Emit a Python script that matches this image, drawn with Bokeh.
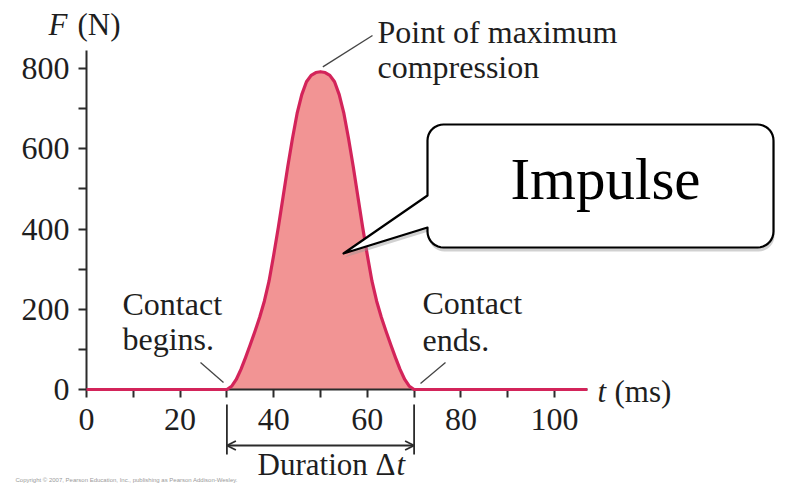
import numpy as np
from bokeh.plotting import figure
from bokeh.models import Range1d, LinearAxis, FixedTicker, Arrow, OpenHead
from bokeh.core.properties import value
from bokeh.embed import file_html
from bokeh.resources import INLINE

# ---------------- data ----------------
time_ms = [0, 30, 31, 32, 33, 34, 35, 36, 37, 38, 39, 40, 41, 42, 43, 44, 45, 46, 47, 48, 49, 50,
           51, 52, 53, 54, 55, 56, 57, 58, 59, 60, 61, 62, 63, 64, 65, 66, 67, 68, 69, 70, 107]
force_n = [0, 0, 8, 25, 50, 80, 112, 145, 180, 220, 270, 335, 405, 480, 555, 625, 688, 735, 767, 783, 790, 792,
           790, 783, 767, 735, 688, 625, 555, 480, 405, 335, 270, 220, 180, 145, 112, 80, 50, 25, 8, 0, 0]
x_major_ticks = [0, 20, 40, 60, 80, 100]
x_minor_ticks = [10, 30, 50, 70, 90]
y_major_ticks = [0, 200, 400, 600, 800]
y_minor_ticks = [100, 300, 500, 700]
contact_begins = 30
contact_ends = 70
peak_time = 50
peak_force = 792

# ---------------- layout ----------------
W, H = 776, 484
SX = 4.68        # px per ms
SY = 0.40125     # px per N
X0 = -86 / SX
X1 = X0 + W / SX
Y1 = 389 / SY
Y0 = Y1 - H / SY
BASE_FIX = 0.37  # correction (in em) so that the alphabetic baseline lands where wanted


def dx(px):
    return X0 + px / SX


def dy(py):
    return Y1 - py / SY


def by(py, fs):
    """data y for a text whose baseline should sit at screen row py"""
    return dy(py - BASE_FIX * fs)


SERIF = value("Liberation Serif")
INK = "#1e1e1e"
LINE_RED = "#d3245a"
FILL_RED = "#f29494"

p = figure(width=W, height=H, x_range=Range1d(X0, X1), y_range=Range1d(Y0, Y1),
           output_backend="svg", toolbar_location=None,
           x_axis_location=None, y_axis_location=None,
           min_border=0, outline_line_color=None)
p.xgrid.grid_line_color = None
p.ygrid.grid_line_color = None

axis_style = dict(axis_line_width=2, axis_line_color="#2b2b2b",
                  major_tick_in=0, major_tick_out=8, minor_tick_in=0, minor_tick_out=8,
                  major_tick_line_width=2, minor_tick_line_width=2,
                  major_tick_line_color="#2b2b2b", minor_tick_line_color="#2b2b2b",
                  major_label_text_font="Liberation Serif",
                  major_label_text_font_size="32px",
                  major_label_text_color=INK)

xaxis = LinearAxis(fixed_location=0,
                   ticker=FixedTicker(ticks=x_major_ticks, minor_ticks=x_minor_ticks),
                   bounds=(0, 107), major_label_standoff=11, **axis_style)
yaxis = LinearAxis(fixed_location=0,
                   ticker=FixedTicker(ticks=y_major_ticks, minor_ticks=y_minor_ticks),
                   bounds=(0, 845), major_label_standoff=9, **axis_style)
p.add_layout(xaxis, "below")
p.add_layout(yaxis, "left")

# impulse area + force curve
p.varea(x=time_ms, y1=[0] * len(time_ms), y2=force_n, fill_color=FILL_RED)
p.line(time_ms, force_n, line_color=LINE_RED, line_width=3.2, level="overlay", line_join="round")

# axis titles
FS_AX = 31
p.text(x=[dx(48)], y=[by(35, FS_AX)], text=["F"], text_font=SERIF, text_font_size=f"{FS_AX}px",
       text_font_style="italic", text_color=INK, text_baseline="alphabetic")
p.text(x=[dx(77)], y=[by(35, FS_AX)], text=["(N)"], text_font=SERIF, text_font_size=f"{FS_AX}px",
       text_color=INK, text_baseline="alphabetic")
p.text(x=[dx(597)], y=[by(402, FS_AX)], text=["t"], text_font=SERIF, text_font_size=f"{FS_AX}px",
       text_font_style="italic", text_color=INK, text_baseline="alphabetic")
p.text(x=[dx(614)], y=[by(402, FS_AX)], text=["(ms)"], text_font=SERIF, text_font_size=f"{FS_AX}px",
       text_color=INK, text_baseline="alphabetic")

# annotation texts
FS = 32
ann = dict(text_font=SERIF, text_font_size=f"{FS}px", text_color=INK, text_baseline="alphabetic")
p.text(x=[dx(377), dx(377)], y=[by(43, FS), by(78, FS)], text=["Point of maximum", "compression"], **ann)
p.text(x=[dx(122), dx(122)], y=[by(315, FS), by(350, FS)], text=["Contact", "begins."], **ann)
p.text(x=[dx(422), dx(422)], y=[by(314, FS), by(351, FS)], text=["Contact", "ends."], **ann)

# leader lines
p.segment(x0=[peak_time + 0.5, dx(200), dx(420)], y0=[peak_force + 12, dy(362), dy(383)],
          x1=[dx(372), dx(223), dx(445)], y1=[dy(35), dy(382), dy(362)],
          line_color="#444444", line_width=1.3)

# duration bracket
FS_D = 31
p.segment(x0=[contact_begins, contact_ends], y0=[dy(404), dy(404)],
          x1=[contact_begins, contact_ends], y1=[dy(454), dy(454)],
          line_color="#2b2b2b", line_width=1.8)
p.add_layout(Arrow(x_start=contact_begins, y_start=dy(445), x_end=contact_ends, y_end=dy(445),
                   line_color="#2b2b2b", line_width=1.8,
                   start=OpenHead(size=9, line_width=1.8, line_color="#2b2b2b"),
                   end=OpenHead(size=9, line_width=1.8, line_color="#2b2b2b")))
dur = dict(text_font=SERIF, text_font_size=f"{FS_D}px", text_color=INK, text_baseline="alphabetic")
p.text(x=[dx(395)], y=[by(475, FS_D)], text=["Duration \u0394"], text_align="right", **dur)
p.text(x=[dx(396)], y=[by(475, FS_D)], text=["t"], text_font_style="italic", **dur)

# callout "Impulse"
L, T, R, B, r = 427, 124, 773, 247, 16
tip = (343, 253)
upper_y, lower_y = 195, 227


def callout(off_x=0.0, off_y=0.0):
    pts = []

    def arc(cx, cy, a0, a1):
        for a in np.linspace(a0, a1, 10):
            pts.append((cx + r * np.cos(a), cy + r * np.sin(a)))

    arc(L + r, T + r, np.pi, 1.5 * np.pi)
    arc(R - r, T + r, 1.5 * np.pi, 2 * np.pi)
    arc(R - r, B - r, 0, 0.5 * np.pi)
    arc(L + r, B - r, 0.5 * np.pi, np.pi)
    pts.append((L, lower_y))
    pts.append(tip)
    pts.append((L, upper_y))
    xs = [dx(a + off_x) for a, b in pts]
    ys = [dy(b + off_y) for a, b in pts]
    return xs, ys


sx_, sy_ = callout(1, 4)
p.patch(sx_, sy_, fill_color="#9a9a9a", fill_alpha=0.45, line_color=None, level="overlay")
cx_, cy_ = callout()
p.patch(cx_, cy_, fill_color="white", line_color="black", line_width=2.2, level="overlay",
        line_join="round")
FS_IMP = 59
p.text(x=[dx(605)], y=[by(200, FS_IMP)], text=["Impulse"], text_font=SERIF,
       text_font_size=f"{FS_IMP}px", text_color="black", text_align="center",
       text_baseline="alphabetic", level="overlay")

# copyright line
p.text(x=[dx(15)], y=[dy(479)],
       text=["Copyright \u00a9 2007, Pearson Education, Inc., publishing as Pearson Addison-Wesley."],
       text_font=value("Liberation Sans"), text_font_size="6px", text_color="#9a9a9a",
       text_baseline="middle")

open("out.html", "w").write(file_html(p, INLINE))
